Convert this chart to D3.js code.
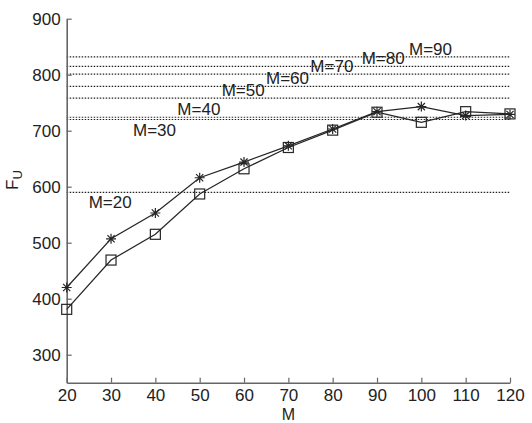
<!DOCTYPE html>
<html>
<head>
<meta charset="utf-8">
<script src="https://cdn.jsdelivr.net/npm/d3@7"></script>
<style>
  html, body { margin: 0; padding: 0; background: #fff; }
  svg { display: block; font-family: "Liberation Sans", Arial, sans-serif; }
</style>
</head>
<body>
<svg id="chart" width="532" height="423"></svg>
<script>
// ---- data ----
const mValues   = [20, 30, 40, 50, 60, 70, 80, 90, 100, 110, 120];
const fuStar    = [420, 507, 553, 616, 644, 673, 703, 734, 743, 727, 729];
const fuSquare  = [381, 469, 515, 587, 632, 670, 701, 733, 715, 734, 730];
const limitM    = [20, 30, 40, 50, 60, 70, 80, 90];
const limitF    = [590, 720, 724, 758, 779, 801, 815, 832];
const xTicks    = [20, 30, 40, 50, 60, 70, 80, 90, 100, 110, 120];
const yTicks    = [300, 400, 500, 600, 700, 800, 900];

// ---- layout ----
const W = 532, H = 423;
const margin = { left: 66.7, right: 22, top: 18.7, bottom: 40.3 };
const svg = d3.select("#chart");
const x = d3.scaleLinear().domain([20, 120]).range([margin.left, W - margin.right]);
const y = d3.scaleLinear().domain([250, 900]).range([H - margin.bottom, margin.top]);
const axisColor = "#666";
const inkColor = "#262626";
const textColor = "#222";

// dotted limit lines
svg.append("g").selectAll("line").data(limitF).join("line")
  .attr("x1", x(20)).attr("x2", x(120))
  .attr("y1", d => y(d)).attr("y2", d => y(d))
  .attr("stroke", "#222").attr("stroke-width", 1.2)
  .attr("stroke-dasharray", "1.5,1.5");

// limit labels
const labelDx = [22, 22, 22, 22, 22, 22, 29, 32];
svg.append("g").selectAll("text").data(limitM).join("text")
  .attr("x", (d, i) => x(d) + labelDx[i])
  .attr("y", (d, i) => y(limitF[i]) + (d <= 30 ? 16 : -2))
  .attr("font-size", 17).attr("fill", textColor)
  .text(d => "M=" + d);

// axes
const yAxis = d3.axisLeft(y).tickValues(yTicks).tickSizeInner(-5).tickSizeOuter(0).tickPadding(6);
const xAxis = d3.axisBottom(x).tickValues(xTicks).tickSizeInner(-5).tickSizeOuter(0).tickPadding(6);
const gy = svg.append("g").attr("transform", `translate(${margin.left},0)`).call(yAxis);
const gx = svg.append("g").attr("transform", `translate(0,${H - margin.bottom})`).call(xAxis);
[gx, gy].forEach(g => {
  g.select(".domain").attr("stroke", axisColor).attr("stroke-width", 1.6);
  g.selectAll(".tick line").attr("stroke", axisColor).attr("stroke-width", 1.2);
  g.selectAll(".tick text").attr("font-size", 17).attr("fill", textColor)
    .attr("font-family", "'Liberation Sans', Arial, sans-serif");
});

// axis titles
svg.append("text")
  .attr("x", x(70)).attr("y", 419.5)
  .attr("text-anchor", "middle").attr("font-size", 16).attr("fill", textColor)
  .text("M");
const yl = svg.append("text")
  .attr("transform", "translate(18,190) rotate(-90)")
  .attr("font-size", 17).attr("fill", textColor);
yl.append("tspan").text("F");
yl.append("tspan").attr("font-size", 13).attr("dy", 4).text("U");

// series lines
const line = d3.line().x((d, i) => x(mValues[i])).y(d => y(d));
[fuStar, fuSquare].forEach(s => {
  svg.append("path").datum(s).attr("d", line)
    .attr("fill", "none").attr("stroke", inkColor).attr("stroke-width", 1.25);
});

// square markers
svg.append("g").selectAll("rect").data(fuSquare).join("rect")
  .attr("x", (d, i) => x(mValues[i]) - 5).attr("y", d => y(d) - 5)
  .attr("width", 10).attr("height", 10)
  .attr("fill", "none").attr("stroke", inkColor).attr("stroke-width", 1.2);

// star markers (plus + cross)
const r = 5, rd = 3.6;
svg.append("g").selectAll("path").data(fuStar).join("path")
  .attr("transform", (d, i) => `translate(${x(mValues[i])},${y(d)})`)
  .attr("d", `M${-r},0L${r},0M0,${-r}L0,${r}M${-rd},${-rd}L${rd},${rd}M${-rd},${rd}L${rd},${-rd}`)
  .attr("fill", "none").attr("stroke", inkColor).attr("stroke-width", 1.2);
</script>
</body>
</html>
